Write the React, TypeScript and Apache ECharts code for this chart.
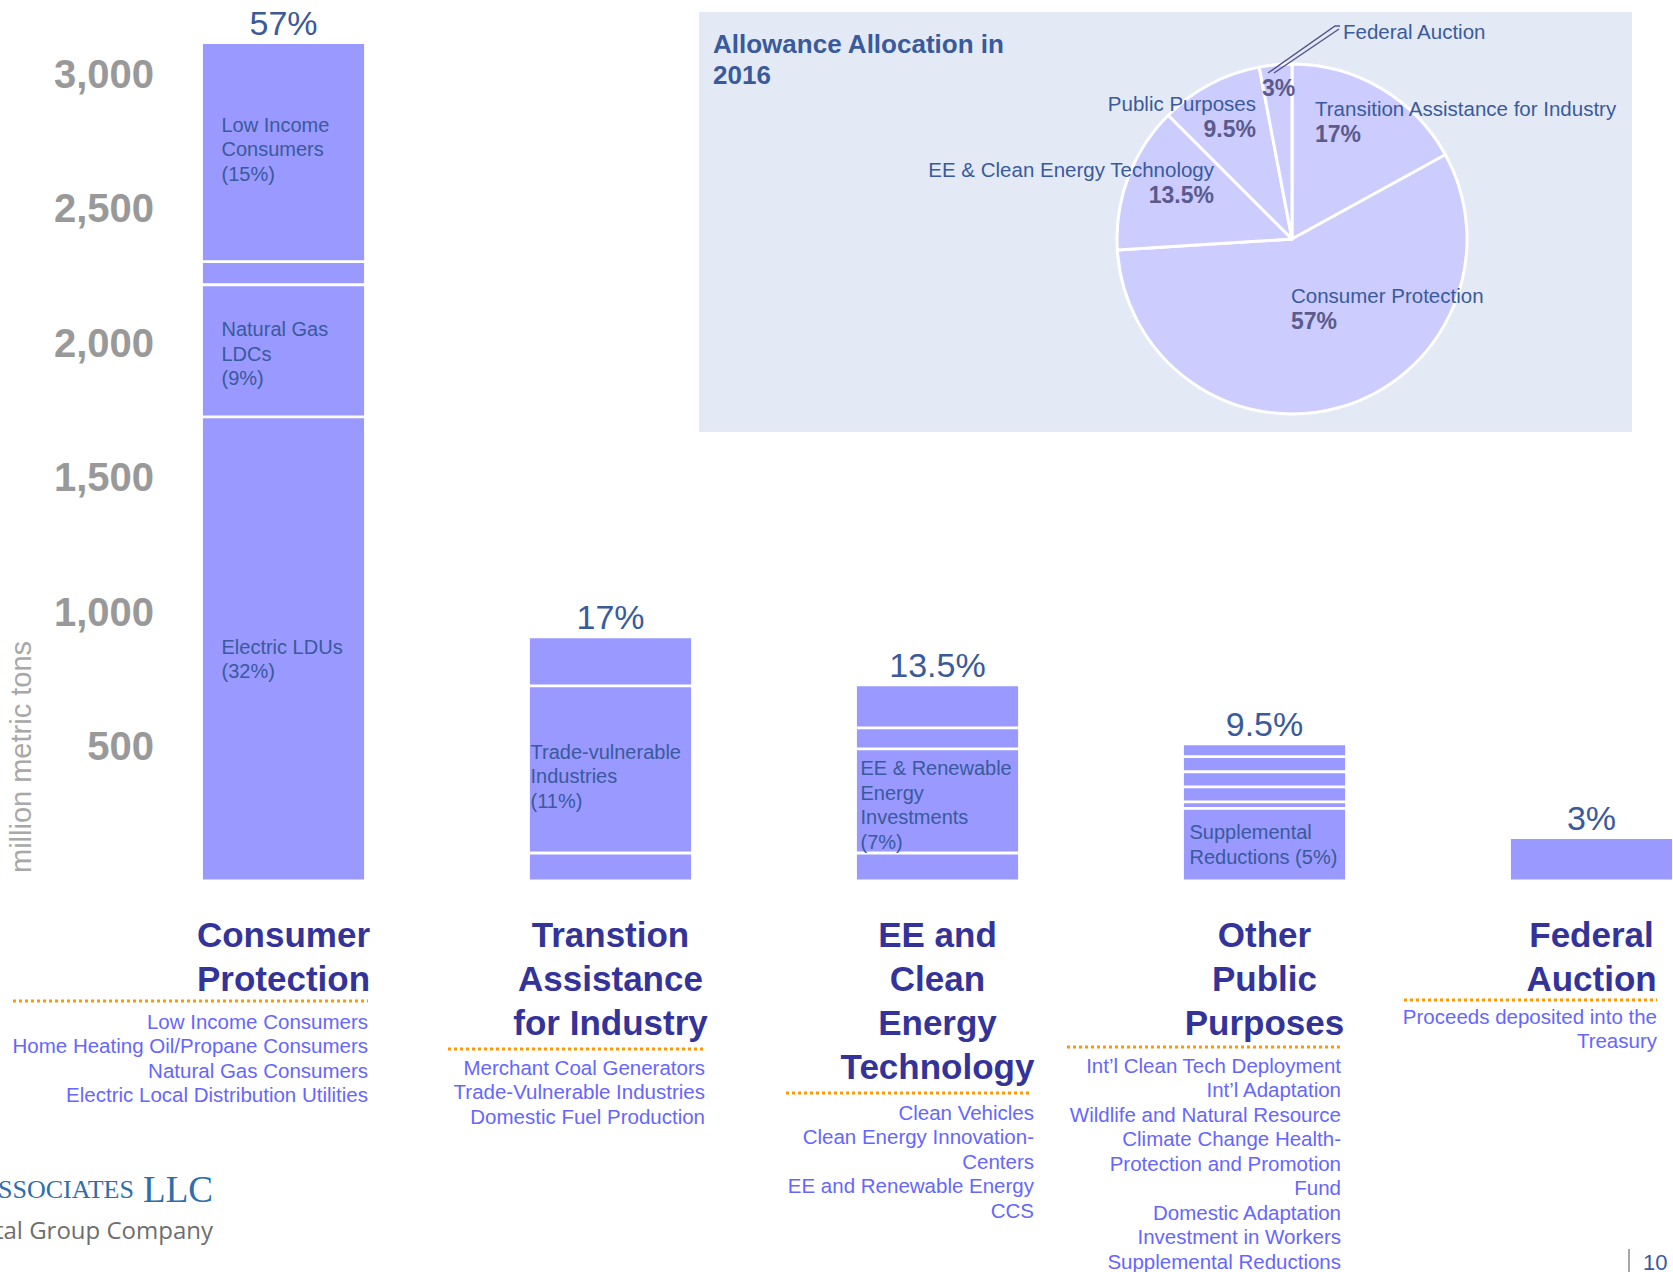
import React, { useEffect, useRef } from 'react';
import * as echarts from 'echarts';

// ---------- DATA ----------
const categories = [
  'Consumer\nProtection',
  'Transtion\nAssistance\nfor Industry',
  'EE and\nClean\nEnergy\nTechnology',
  'Other\nPublic\nPurposes',
  'Federal\nAuction',
];
const categoryShares = [57, 17, 13.5, 9.5, 3];

// stacked segments, bottom to top (million metric tons)
const segment1 = [1725, 104, 104, 270, 161];
const segment2 = [491, 621, 387, 24, null];
const segment3 = [86, 182, 78, 56, null];
const segment4 = [814, null, 160, 56, null];
const segment5 = [null, null, null, 56, null];
const segment6 = [null, null, null, 48, null];
const segments = [segment1, segment2, segment3, segment4, segment5, segment6];

const segmentLabels = [
  { segment: 0, category: 0, text: 'Electric LDUs\n(32%)' },
  { segment: 1, category: 0, text: 'Natural Gas\nLDCs\n(9%)' },
  { segment: 3, category: 0, text: 'Low Income\nConsumers\n(15%)' },
  { segment: 1, category: 1, text: 'Trade-vulnerable\nIndustries\n(11%)' },
  { segment: 1, category: 2, text: 'EE & Renewable\nEnergy\nInvestments\n(7%)' },
  { segment: 0, category: 3, text: 'Supplemental\nReductions (5%)' },
];

const yAxisMax = 3200;
const yAxisStep = 500;

const subLists = [
  ['Low Income Consumers', 'Home Heating Oil/Propane Consumers', 'Natural Gas Consumers', 'Electric Local Distribution Utilities'],
  ['Merchant Coal Generators', 'Trade-Vulnerable Industries', 'Domestic Fuel Production'],
  ['Clean Vehicles', 'Clean Energy Innovation-', 'Centers', 'EE and Renewable Energy', 'CCS'],
  ['Int\u2019l Clean Tech Deployment', 'Int\u2019l Adaptation', 'Wildlife and Natural Resource', 'Climate Change Health-', 'Protection and Promotion', 'Fund', 'Domestic Adaptation', 'Investment in Workers', 'Supplemental Reductions'],
  ['Proceeds deposited into the', 'Treasury'],
];

const pieNames = ['Transition Assistance for Industry', 'Consumer Protection', 'EE & Clean Energy Technology', 'Public Purposes', 'Federal Auction'];
const pieValues = [17, 57, 13.5, 9.5, 3];

// ---------- LAYOUT ----------
const FONT = "'Liberation Sans', Arial, sans-serif";
const segLabelDx = [20, 2, 5, 7, 5];
const segLabelDy = [
  [10, 3, 0, -3],
  [0, 7, 0, 0],
  [0, 4, 0, 0],
  [0, 0, 0, 0],
  [0, 0, 0, 0],
];
const subListPos = [
  { right: 368, top: 1009 },
  { right: 705, top: 1055 },
  { right: 1034, top: 1100 },
  { right: 1341, top: 1053 },
  { right: 1657, top: 1004 },
];
const dottedLines = [
  { x1: 13, x2: 368, y: 1001 },
  { x1: 448, x2: 705, y: 1049 },
  { x1: 786, x2: 1031, y: 1093 },
  { x1: 1067, x2: 1341, y: 1047 },
  { x1: 1404, x2: 1657, y: 1000 },
];
const pieLabelLayout = [
  { x: 1315, y: 96, align: 'left', verticalAlign: 'top' },
  { x: 1291, y: 283, align: 'left', verticalAlign: 'top' },
  { x: 1214, y: 157, align: 'right', verticalAlign: 'top' },
  { x: 1256, y: 91, align: 'right', verticalAlign: 'top' },
  { x: 1262, y: 88, align: 'left', verticalAlign: 'middle' },
];

const BAR_COLOR = '#9999ff';
const LABEL_BLUE = '#3a5a9c';
const CHART_W = 1755;

export default function App() {
  const ref = useRef<HTMLDivElement>(null);

  useEffect(() => {
    const chart = echarts.init(ref.current as HTMLDivElement, null, { renderer: 'svg' });

    const totals = categories.map((_, i) =>
      segments.reduce((s, seg) => s + (seg[i] == null ? 0 : (seg[i] as number)), 0)
    );

    const barSeries: any[] = segments.map((seg, si) => ({
      type: 'bar',
      stack: 'total',
      barWidth: 164,
      barGap: '-100%',
      z: 2,
      itemStyle: { color: BAR_COLOR, borderColor: '#ffffff', borderWidth: 1.4 },
      data: seg.map((v, ci) => {
        const lab = segmentLabels.find((l) => l.segment === si && l.category === ci);
        if (v == null) return '-';
        if (!lab) return v;
        return {
          value: v,
          label: {
            show: true,
            formatter: lab.text,
            position: [segLabelDx[ci], '50%'],
            offset: [0, segLabelDy[ci][si]],
            align: 'left',
            verticalAlign: 'middle',
            color: LABEL_BLUE,
            fontSize: 20,
            lineHeight: 24.5,
            fontFamily: FONT,
          },
        };
      }),
    }));

    barSeries.push({
      type: 'bar',
      barWidth: 164,
      barGap: '-100%',
      z: 3,
      silent: true,
      itemStyle: { color: 'rgba(0,0,0,0)' },
      label: {
        show: true,
        position: 'top',
        distance: 3,
        color: LABEL_BLUE,
        fontSize: 34,
        fontFamily: FONT,
        formatter: (p: any) => `${categoryShares[p.dataIndex]}%`,
      },
      data: totals,
    });

    const graphics: any[] = [
      {
        type: 'rect',
        z: -10,
        shape: { x: 699, y: 12, width: 933, height: 420 },
        style: { fill: '#e4eaf5' },
      },
      {
        type: 'text',
        x: 21,
        y: 757,
        rotation: Math.PI / 2,
        style: {
          text: 'million metric tons',
          fill: '#a8a8a8',
          fontSize: 29,
          fontFamily: FONT,
          align: 'center',
          verticalAlign: 'middle',
        },
      },
      {
        type: 'polyline',
        z: 20,
        shape: { points: [[1268, 73], [1335, 26], [1340, 26]] },
        style: { stroke: '#55558a', lineWidth: 1.5, fill: null },
      },
      {
        type: 'polyline',
        z: 20,
        shape: { points: [[1274, 73], [1339, 29]] },
        style: { stroke: '#55558a', lineWidth: 1.5, fill: null },
      },
      {
        type: 'text',
        z: 20,
        x: 1343,
        y: 31,
        style: {
          text: pieNames[4],
          fill: LABEL_BLUE,
          fontSize: 20.5,
          fontFamily: FONT,
          align: 'left',
          verticalAlign: 'middle',
        },
      },
      {
        type: 'line',
        shape: { x1: 1629, y1: 1249, x2: 1629, y2: 1272 },
        style: { stroke: '#888888', lineWidth: 1.5 },
      },
      {
        type: 'text',
        x: 1643,
        y: 1262,
        style: { text: '10', fill: LABEL_BLUE, fontSize: 22, fontFamily: FONT, align: 'left', verticalAlign: 'middle' },
      },
      {
        type: 'text',
        x: 213,
        y: 1208,
        style: {
          text: '{a|A}{b|SSOCIATES}{a| LLC}',
          align: 'right',
          verticalAlign: 'bottom',
          rich: {
            a: { fontSize: 37, fontFamily: "'Liberation Serif', serif", fill: '#2f6ea8', color: '#2f6ea8' },
            b: { fontSize: 26, fontFamily: "'Liberation Serif', serif", fill: '#2f6ea8', color: '#2f6ea8' },
          },
        },
      },
      {
        type: 'text',
        x: 213,
        y: 1229,
        style: {
          text: 'Capital Group Company',
          fill: '#6e6e6e',
          fontSize: 24,
          fontFamily: "'Open Sans', sans-serif",
          align: 'right',
          verticalAlign: 'middle',
        },
      },
    ];

    subLists.forEach((lines, i) => {
      graphics.push({
        type: 'text',
        x: subListPos[i].right,
        y: subListPos[i].top,
        style: {
          text: lines.join('\n'),
          fill: '#6666ff',
          fontSize: 20.5,
          fontFamily: FONT,
          lineHeight: 24.5,
          align: 'right',
          verticalAlign: 'top',
        },
      });
      graphics.push({
        type: 'line',
        shape: { x1: dottedLines[i].x1, y1: dottedLines[i].y, x2: dottedLines[i].x2, y2: dottedLines[i].y },
        style: { stroke: '#ff9900', lineWidth: 3, lineDash: [3, 3] },
      });
    });

    const option: any = {
      animation: false,
      backgroundColor: '#ffffff',
      textStyle: { fontFamily: FONT },
      title: {
        text: 'Allowance Allocation in\n2016',
        left: 713,
        top: 28,
        padding: 0,
        textStyle: { fontSize: 26, fontWeight: 'bold', color: LABEL_BLUE, lineHeight: 31, fontFamily: FONT },
      },
      grid: { left: 120, right: 0, top: 20, bottom: 391, containLabel: false },
      xAxis: {
        type: 'category',
        data: categories,
        axisLine: { show: false },
        axisTick: { show: false },
        axisLabel: {
          interval: 0,
          margin: 31,
          fontSize: 35,
          fontWeight: 'bold',
          color: '#333399',
          lineHeight: 44,
          fontFamily: FONT,
        },
      },
      yAxis: {
        type: 'value',
        min: 0,
        max: yAxisMax,
        interval: yAxisStep,
        splitLine: { show: false },
        axisLine: { show: false },
        axisTick: { show: false },
        axisLabel: {
          margin: -34,
          fontSize: 40,
          fontWeight: 'bold',
          color: '#999999',
          fontFamily: FONT,
          formatter: (v: number) => (v === 0 || v % yAxisStep !== 0 ? '' : v.toLocaleString('en-US')),
        },
      },
      series: [
        ...barSeries,
        {
          type: 'pie',
          center: [1292, 239],
          radius: 175,
          startAngle: 90,
          clockwise: true,
          z: 5,
          itemStyle: { color: '#ccccff', borderColor: '#ffffff', borderWidth: 3 },
          label: {
            show: true,
            position: 'inside',
            formatter: (p: any) =>
              p.dataIndex === 4 ? `{p|${p.value}%}` : `{n|${p.name}}\n{p|${p.value}%}`,
            rich: {
              n: { fontSize: 20.5, color: LABEL_BLUE, lineHeight: 25, fontFamily: FONT },
              p: { fontSize: 23, fontWeight: 'bold', color: '#5a5a8c', lineHeight: 25, fontFamily: FONT },
            },
          },
          labelLine: { show: false },
          labelLayout: (p: any) => pieLabelLayout[p.dataIndex],
          emphasis: { disabled: true },
          data: pieNames.map((n, i) => ({ name: n, value: pieValues[i] })),
        },
      ],
      graphic: graphics,
    };

    chart.setOption(option);
    return () => chart.dispose();
  }, []);

  return (
    <div style={{ position: 'absolute', left: 0, top: 0, width: 1673, height: 1272, overflow: 'hidden', background: '#fff' }}>
      <div ref={ref} style={{ width: CHART_W, height: 1272 }} />
    </div>
  );
}
